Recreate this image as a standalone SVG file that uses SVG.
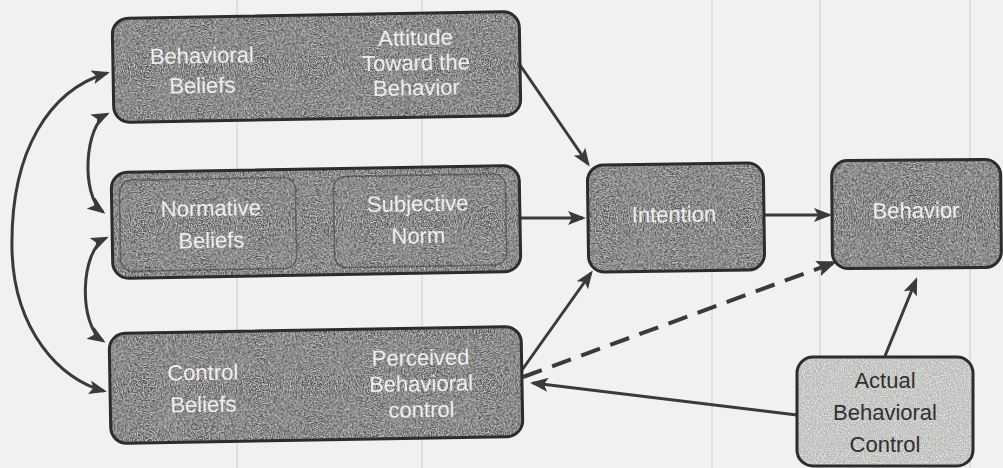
<svg xmlns="http://www.w3.org/2000/svg" width="1003" height="468" viewBox="0 0 1003 468">
  <defs>
    <style>
      .fill { fill: #535353; }
      .lfill { fill: #b8b8b6; }
      .rim { fill: none; stroke: #2c2c2c; stroke-width: 3; }
      .inner { fill: none; stroke: #333333; stroke-opacity: 0.5; stroke-width: 1.5; }
      .t { font-family: "Liberation Sans", "Open Sans", sans-serif; font-size: 22px; fill: #eeeeee; text-anchor: middle; }
      .td { font-family: "Liberation Sans", "Open Sans", sans-serif; font-size: 22px; fill: #303030; text-anchor: middle; }
      .edge { fill: none; stroke: #3a3a3a; stroke-width: 3; }
      .dash { fill: none; stroke: #3a3a3a; stroke-width: 4; stroke-dasharray: 20 11; }
      .scan { stroke: #9a9a9a; stroke-width: 1; stroke-opacity: 0.4; }
    </style>
    <filter id="grain" x="0" y="0" width="100%" height="100%">
      <feTurbulence type="fractalNoise" baseFrequency="0.85" numOctaves="2" seed="4" result="n"/>
      <feColorMatrix in="n" type="matrix" values="0 0 0 0 1  0 0 0 0 1  0 0 0 0 1  1.6 0 0 0 -0.62" result="w"/>
      <feComposite in="w" in2="SourceGraphic" operator="in" result="wi"/>
      <feMerge><feMergeNode in="SourceGraphic"/><feMergeNode in="wi"/></feMerge>
    </filter>
    <marker id="ah" viewBox="0 0 18 14" refX="15" refY="7" markerWidth="18" markerHeight="14" markerUnits="userSpaceOnUse" orient="auto-start-reverse">
      <path d="M0,0 L18,7 L0,14 L4,7 z" fill="#3a3a3a"/>
    </marker>
    <marker id="ahd" viewBox="0 0 20 16" refX="16" refY="8" markerWidth="20" markerHeight="16" markerUnits="userSpaceOnUse" orient="auto">
      <path d="M0,0 L20,8 L0,16 L4,8 z" fill="#3a3a3a"/>
    </marker>
  </defs>

  <rect x="0" y="0" width="1003" height="468" fill="#f1f1ef"/>
  <g id="scanlines">
    <line class="scan" x1="237" y1="0" x2="237" y2="468"/>
    <line class="scan" x1="422" y1="0" x2="422" y2="468"/>
    <line class="scan" x1="712" y1="0" x2="712" y2="468"/>
    <line class="scan" x1="820" y1="0" x2="820" y2="468"/>
    <line class="scan" x1="970" y1="0" x2="970" y2="468"/>
  </g>

  <g id="connectors">
    <path class="edge" d="M520,65 L588,164" marker-end="url(#ah)"/>
    <path class="edge" d="M520,218 L583,218" marker-end="url(#ah)"/>
    <path class="edge" d="M522,370 L591,273" marker-end="url(#ah)"/>
    <path class="dash" d="M523,377 L833,263" marker-end="url(#ahd)"/>
    <path class="edge" d="M764,215 L829,215" marker-end="url(#ah)"/>
    <path class="edge" d="M885,356 L916,280" marker-end="url(#ah)"/>
    <path class="edge" d="M797,415 L533,383" marker-end="url(#ah)"/>
    <path class="edge" d="M107,73 C50,90 10,150 12,250 C14,330 60,380 104,391" marker-start="url(#ah)" marker-end="url(#ah)"/>
    <path class="edge" d="M107,114 C85,125 80,195 103,212" marker-start="url(#ah)" marker-end="url(#ah)"/>
    <path class="edge" d="M106,238 C80,250 78,325 103,341" marker-start="url(#ah)" marker-end="url(#ah)"/>
  </g>

  <g id="attitude-row" transform="rotate(-1 316 67)">
    <rect class="fill" x="113" y="15" width="407" height="104" rx="16" filter="url(#grain)"/>
    <rect class="rim" x="113" y="15" width="407" height="104" rx="16"/>
    <text class="t" x="202" y="61">Behavioral</text>
    <text class="t" x="202" y="91">Beliefs</text>
    <text class="t" x="416" y="47">Attitude</text>
    <text class="t" x="416" y="72">Toward the</text>
    <text class="t" x="416" y="97">Behavior</text>
  </g>

  <g id="norm-row" transform="rotate(-1 316 222)">
    <rect class="fill" x="112" y="169" width="408" height="106" rx="16" filter="url(#grain)"/>
    <rect class="rim" x="112" y="169" width="408" height="106" rx="16"/>
    <rect class="inner" x="120" y="177" width="176" height="91" rx="12"/>
    <rect class="inner" x="334" y="177" width="172" height="91" rx="12"/>
    <text class="t" x="211" y="214">Normative</text>
    <text class="t" x="211" y="246">Beliefs</text>
    <text class="t" x="418" y="213">Subjective</text>
    <text class="t" x="418" y="245">Norm</text>
  </g>

  <g id="control-row" transform="rotate(-1 316 385)">
    <rect class="fill" x="110" y="330" width="412" height="110" rx="16" filter="url(#grain)"/>
    <rect class="rim" x="110" y="330" width="412" height="110" rx="16"/>
    <text class="t" x="203" y="378">Control</text>
    <text class="t" x="203" y="410">Beliefs</text>
    <text class="t" x="421" y="367">Perceived</text>
    <text class="t" x="421" y="393">Behavioral</text>
    <text class="t" x="421" y="419">control</text>
  </g>

  <g id="intention" transform="rotate(-0.8 676 218)">
    <rect class="fill" x="588" y="164" width="176" height="107" rx="16" filter="url(#grain)"/>
    <rect class="rim" x="588" y="164" width="176" height="107" rx="16"/>
    <text class="t" x="674" y="222">Intention</text>
  </g>

  <g id="behavior" transform="rotate(-0.5 916 214)">
    <rect class="fill" x="832" y="160" width="169" height="108" rx="16" filter="url(#grain)"/>
    <rect class="rim" x="832" y="160" width="169" height="108" rx="16"/>
    <text class="t" x="916" y="218">Behavior</text>
  </g>

  <g id="actual-control">
    <rect class="lfill" x="797" y="357" width="176" height="109" rx="16" filter="url(#grain)"/>
    <rect class="rim" x="797" y="357" width="176" height="109" rx="16"/>
    <text class="td" x="885" y="388">Actual</text>
    <text class="td" x="885" y="420">Behavioral</text>
    <text class="td" x="885" y="452">Control</text>
  </g>
</svg>
